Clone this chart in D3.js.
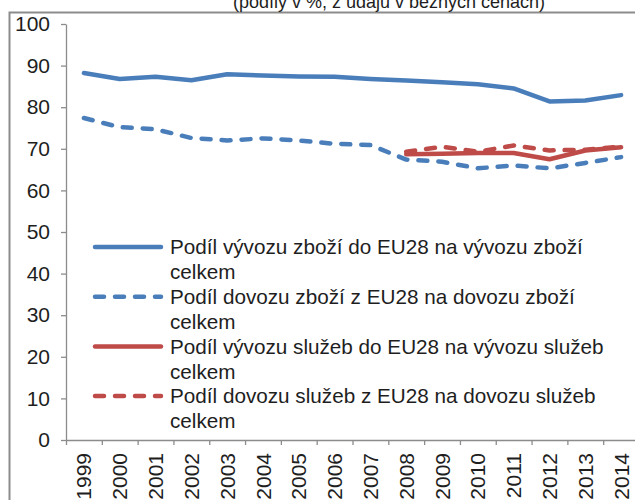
<!DOCTYPE html>
<html>
<head>
<meta charset="utf-8">
<script src="https://cdn.jsdelivr.net/npm/d3@7"></script>
<style>
  html, body { margin: 0; padding: 0; background: #fff; overflow: hidden; }
  svg { display: block; font-family: "Liberation Sans", Arial, sans-serif; }
</style>
</head>
<body>
<div id="chart"></div>
<script>
// chart data (shares in %)
const YEARS = ["1999", "2000", "2001", "2002", "2003", "2004", "2005", "2006",
  "2007", "2008", "2009", "2010", "2011", "2012", "2013", "2014"];
const GOODS_EXPORT = [88.2, 86.8, 87.3, 86.5, 87.9, 87.6, 87.4, 87.3, 86.8, 86.4, 86.0, 85.5, 84.5, 81.4, 81.6, 82.9];
const GOODS_IMPORT = [77.4, 75.2, 74.7, 72.6, 72.0, 72.5, 72.0, 71.2, 70.9, 67.4, 66.9, 65.3, 66.0, 65.3, 66.6, 68.0];
const SERV_EXPORT = [null, null, null, null, null, null, null, null, null, 68.7, 68.8, 69.0, 69.0, 67.5, 69.6, 70.4];
const SERV_IMPORT = [null, null, null, null, null, null, null, null, null, 69.3, 70.5, 69.3, 70.8, 69.6, 69.8, 70.5];
const Y_TICKS = [0, 10, 20, 30, 40, 50, 60, 70, 80, 90, 100];
const TITLE = "(podíly v %, z údajů v běžných cenách)";

const SERIES = [
  { name: ["Podíl vývozu zboží do EU28 na vývozu zboží", "celkem"], values: GOODS_EXPORT, color: "#4a7ebb", dash: null },
  { name: ["Podíl dovozu zboží z EU28 na dovozu zboží", "celkem"], values: GOODS_IMPORT, color: "#4a7ebb", dash: "9,11" },
  { name: ["Podíl vývozu služeb do EU28 na vývozu služeb", "celkem"], values: SERV_EXPORT, color: "#be4b48", dash: null },
  { name: ["Podíl dovozu služeb z EU28 na dovozu služeb", "celkem"], values: SERV_IMPORT, color: "#be4b48", dash: "9,11" },
];

const W = 635, H = 500;
const plot = { left: 66, right: 639, top: 24, bottom: 440 };
const AXIS_GREY = "#8c8c8c";
const TEXT = "#1e1e1e";

const svg = d3.select("#chart").append("svg")
  .attr("width", W)
  .attr("height", H);

// outer chart frame (cut off by the crop on the right and bottom)
svg.append("rect")
  .attr("x", 9.5).attr("y", 12.5)
  .attr("width", 700).attr("height", 600)
  .attr("fill", "none")
  .attr("stroke", AXIS_GREY)
  .attr("stroke-width", 2);

// title, mostly cropped away at the top (as in the reference)
svg.append("text")
  .attr("x", 389).attr("y", 8)
  .attr("text-anchor", "middle")
  .attr("font-size", 18)
  .attr("fill", TEXT)
  .text(TITLE);

const x = d3.scaleBand().domain(YEARS).range([plot.left, plot.right]).padding(0);
const xEdge = d3.scaleLinear().domain([0, YEARS.length]).range([plot.left, plot.right]);
const y = d3.scaleLinear().domain([0, 100]).range([plot.bottom, plot.top]);
const cx = (i) => x(YEARS[i]) + x.bandwidth() / 2;

// y axis
const yAxis = svg.append("g")
  .attr("transform", `translate(${plot.left},0)`)
  .call(d3.axisLeft(y).tickValues(Y_TICKS).tickSize(5).tickPadding(11).tickSizeOuter(0));
yAxis.select(".domain").attr("stroke", AXIS_GREY).attr("stroke-width", 1.3);
yAxis.selectAll(".tick line").attr("stroke", AXIS_GREY).attr("stroke-width", 1.3);
yAxis.selectAll("text")
  .attr("font-size", 21)
  .attr("font-family", "Liberation Sans, Arial, sans-serif")
  .attr("fill", TEXT);

// x axis: tick marks between categories
const xTicks = svg.append("g")
  .attr("transform", `translate(0,${plot.bottom})`)
  .call(d3.axisBottom(xEdge).tickValues(d3.range(YEARS.length + 1)).tickFormat("").tickSize(5).tickSizeOuter(0));
xTicks.select(".domain").attr("stroke", AXIS_GREY).attr("stroke-width", 1.3);
xTicks.selectAll(".tick line").attr("stroke", AXIS_GREY).attr("stroke-width", 1.3);

// x axis labels, rotated
const xLabels = svg.append("g")
  .attr("transform", `translate(0,${plot.bottom})`)
  .call(d3.axisBottom(x).tickSize(0));
xLabels.select(".domain").remove();
xLabels.selectAll("text")
  .attr("font-size", 21)
  .attr("font-family", "Liberation Sans, Arial, sans-serif")
  .attr("fill", TEXT)
  .attr("transform", "rotate(-90)")
  .attr("text-anchor", "end")
  .attr("x", -13)
  .attr("y", 0)
  .attr("dy", "0.36em");

// series lines
const line = d3.line()
  .defined((d) => d != null)
  .x((d, i) => cx(i))
  .y((d) => y(d));

SERIES.forEach((s) => {
  svg.append("path")
    .datum(s.values)
    .attr("fill", "none")
    .attr("stroke", s.color)
    .attr("stroke-width", 4.5)
    .attr("stroke-linecap", "round")
    .attr("stroke-linejoin", "round")
    .attr("stroke-dasharray", s.dash)
    .attr("d", line);
});

// legend inside the plot
const legend = svg.append("g").attr("transform", "translate(93,247)");
SERIES.forEach((s, i) => {
  const g = legend.append("g").attr("transform", `translate(0,${i * 49.7})`);
  g.append("line")
    .attr("x1", 2).attr("x2", 68)
    .attr("y1", 0).attr("y2", 0)
    .attr("stroke", s.color)
    .attr("stroke-width", 4.5)
    .attr("stroke-linecap", "round")
    .attr("stroke-dasharray", s.dash);
  const t = g.append("text")
    .attr("x", 77)
    .attr("y", 0)
    .attr("font-size", 20.7)
    .attr("fill", TEXT);
  s.name.forEach((part, j) => {
    t.append("tspan")
      .attr("x", 77)
      .attr("dy", j === 0 ? "0.35em" : 25)
      .text(part);
  });
});
</script>
</body>
</html>
